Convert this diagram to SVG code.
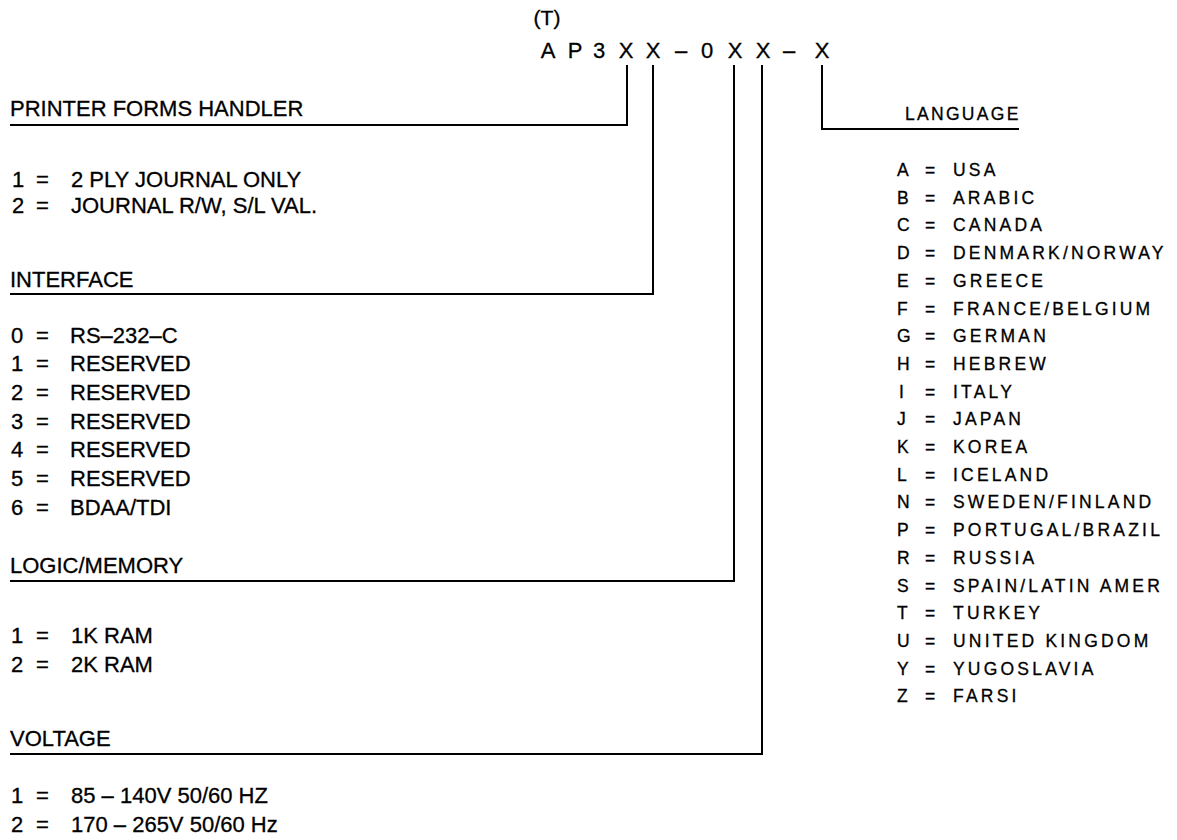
<svg xmlns="http://www.w3.org/2000/svg" width="1177" height="840" viewBox="0 0 1177 840">
<style>
text{font-family:"Liberation Sans",Arial,sans-serif;fill:#000;stroke:#000;stroke-width:0.3}
.code{font-size:22px;text-anchor:middle}
.l{font-size:22px}
.r{font-size:17.5px;letter-spacing:3.2px}
.c{fill:none;stroke:#000;stroke-width:2}
</style>
<rect width="1177" height="840" fill="#fff"/>
<g id="code">
<text class="code" x="547" y="25" style="font-size:21px">(T)</text>
<text class="code" x="548" y="58">A</text>
<text class="code" x="575" y="58">P</text>
<text class="code" x="599" y="58">3</text>
<text class="code" x="626" y="58">X</text>
<text class="code" x="653" y="58">X</text>
<text class="code" x="681" y="58">–</text>
<text class="code" x="707" y="58">0</text>
<text class="code" x="735" y="58">X</text>
<text class="code" x="763" y="58">X</text>
<text class="code" x="789" y="58">–</text>
<text class="code" x="822" y="58">X</text>
</g>
<g id="connectors">
<path class="c" d="M627,65 V125 H10"/>
<path class="c" d="M653,65 V294 H10"/>
<path class="c" d="M734,65 V581 H10"/>
<path class="c" d="M762,65 V754 H10"/>
<path class="c" d="M822,65 V129 H1019"/>
</g>
<g id="printer-forms-handler" class="l">
<text x="10" y="116">PRINTER FORMS HANDLER</text>
<text x="12" y="187">1</text><text x="36" y="187">=</text><text x="71" y="187">2 PLY JOURNAL ONLY</text>
<text x="12" y="213">2</text><text x="36" y="213">=</text><text x="71" y="213">JOURNAL R/W, S/L VAL.</text>
</g>
<g id="interface" class="l">
<text x="10" y="287">INTERFACE</text>
<text x="11" y="343">0</text><text x="36" y="343">=</text><text x="70" y="343">RS–232–C</text>
<text x="11" y="371">1</text><text x="36" y="371">=</text><text x="70" y="371">RESERVED</text>
<text x="11" y="400">2</text><text x="36" y="400">=</text><text x="70" y="400">RESERVED</text>
<text x="11" y="429">3</text><text x="36" y="429">=</text><text x="70" y="429">RESERVED</text>
<text x="11" y="457">4</text><text x="36" y="457">=</text><text x="70" y="457">RESERVED</text>
<text x="11" y="486">5</text><text x="36" y="486">=</text><text x="70" y="486">RESERVED</text>
<text x="11" y="515">6</text><text x="36" y="515">=</text><text x="70" y="515">BDAA/TDI</text>
</g>
<g id="logic-memory" class="l">
<text x="10" y="573">LOGIC/MEMORY</text>
<text x="11" y="643">1</text><text x="36" y="643">=</text><text x="71" y="643">1K RAM</text>
<text x="11" y="672">2</text><text x="36" y="672">=</text><text x="71" y="672">2K RAM</text>
</g>
<g id="voltage" class="l">
<text x="10" y="746">VOLTAGE</text>
<text x="11" y="803">1</text><text x="36" y="803">=</text><text x="71" y="803">85 – 140V 50/60 HZ</text>
<text x="11" y="832">2</text><text x="36" y="832">=</text><text x="71" y="832">170 – 265V 50/60 Hz</text>
</g>
<g id="language" class="r">
<text x="905" y="120" style="letter-spacing:2.3px">LANGUAGE</text>
<g>
<text x="897" y="176">A</text><text x="925" y="176">=</text><text x="953" y="176">USA</text>
<text x="897" y="203.7">B</text><text x="925" y="203.7">=</text><text x="953" y="203.7">ARABIC</text>
<text x="897" y="231.4">C</text><text x="925" y="231.4">=</text><text x="953" y="231.4">CANADA</text>
<text x="897" y="259.1">D</text><text x="925" y="259.1">=</text><text x="953" y="259.1">DENMARK/NORWAY</text>
<text x="897" y="286.8">E</text><text x="925" y="286.8">=</text><text x="953" y="286.8">GREECE</text>
<text x="897" y="314.5">F</text><text x="925" y="314.5">=</text><text x="953" y="314.5">FRANCE/BELGIUM</text>
<text x="897" y="342.2">G</text><text x="925" y="342.2">=</text><text x="953" y="342.2">GERMAN</text>
<text x="897" y="369.9">H</text><text x="925" y="369.9">=</text><text x="953" y="369.9">HEBREW</text>
<text x="899" y="397.6">I</text><text x="925" y="397.6">=</text><text x="953" y="397.6">ITALY</text>
<text x="897" y="425.3">J</text><text x="925" y="425.3">=</text><text x="953" y="425.3">JAPAN</text>
<text x="897" y="453">K</text><text x="925" y="453">=</text><text x="953" y="453">KOREA</text>
<text x="897" y="480.7">L</text><text x="925" y="480.7">=</text><text x="953" y="480.7">ICELAND</text>
<text x="897" y="508.4">N</text><text x="925" y="508.4">=</text><text x="953" y="508.4">SWEDEN/FINLAND</text>
<text x="897" y="536.1">P</text><text x="925" y="536.1">=</text><text x="953" y="536.1">PORTUGAL/BRAZIL</text>
<text x="897" y="563.8">R</text><text x="925" y="563.8">=</text><text x="953" y="563.8">RUSSIA</text>
<text x="897" y="591.5">S</text><text x="925" y="591.5">=</text><text x="953" y="591.5">SPAIN/LATIN AMER</text>
<text x="897" y="619.2">T</text><text x="925" y="619.2">=</text><text x="953" y="619.2">TURKEY</text>
<text x="897" y="646.9">U</text><text x="925" y="646.9">=</text><text x="953" y="646.9">UNITED KINGDOM</text>
<text x="897" y="674.6">Y</text><text x="925" y="674.6">=</text><text x="953" y="674.6">YUGOSLAVIA</text>
<text x="897" y="702.3">Z</text><text x="925" y="702.3">=</text><text x="953" y="702.3">FARSI</text>
</g>
</g>
</svg>
